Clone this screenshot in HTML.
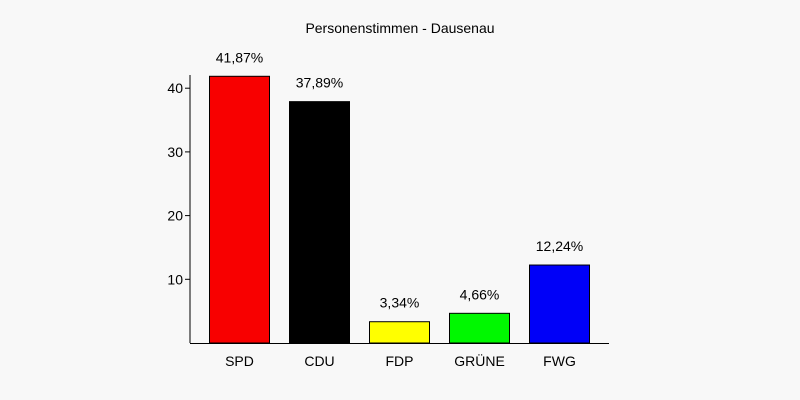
<!DOCTYPE html>
<html><head><meta charset="utf-8"><style>
body{margin:0;background:#f8f8f8;}
svg{display:block;font-family:"Liberation Sans",sans-serif;}
</style></head><body>
<svg id="chart" width="800" height="400">
<rect width="800" height="400" fill="#f8f8f8"/>
<text x="400" y="33" text-anchor="middle" font-size="14">Personenstimmen - Dausenau</text>
<g id="bars"></g>
<g id="axis"></g>
</svg>
<script>
const categories=["SPD","CDU","FDP","GRÜNE","FWG"];
const values=[41.87,37.89,3.34,4.66,12.24];
const valueLabels=["41,87%","37,89%","3,34%","4,66%","12,24%"];
const colors=["#f80000","#000000","#ffff00","#00f800","#0000f8"];
const ticks=[10,20,30,40];
const NS="http://www.w3.org/2000/svg";
const x0=190,y0=343,ppu=6.37,step=80,bw=60,first=19.5;
const yS=v=>y0-v*ppu;
const xS=i=>x0+first+i*step;
function mk(tag,attrs,parent){const e=document.createElementNS(NS,tag);for(const k in attrs)e.setAttribute(k,attrs[k]);parent.appendChild(e);return e;}
const bars=document.getElementById('bars'),axis=document.getElementById('axis');
values.forEach((v,i)=>{
 const r=mk('rect',{x:xS(i),y:yS(v),width:bw,height:y0-yS(v),fill:colors[i],stroke:'#000','stroke-width':1},bars);
 
 
 const t=mk('text',{x:xS(i)+bw/2,y:yS(v)-14,'text-anchor':'middle','font-size':14},bars);
 t.textContent=valueLabels[i];
 
 
 const c=mk('text',{x:xS(i)+bw/2,y:y0+23,'text-anchor':'middle','font-size':14},bars);
 c.textContent=categories[i];
 
 
});
const ya=mk('line',{x1:x0,y1:75,x2:x0,y2:y0,stroke:'#000','stroke-width':1},axis);


const xa=mk('line',{x1:x0,y1:y0+0.5,x2:609,y2:y0+0.5,stroke:'#000','stroke-width':1},axis);


ticks.forEach(t=>{
 const l=mk('line',{x1:x0-5,y1:yS(t),x2:x0,y2:yS(t),stroke:'#000'},axis);
 
 
 const tx=mk('text',{x:x0-7,y:yS(t)+5,'text-anchor':'end','font-size':14},axis);
 tx.textContent=t;
 
 
});
</script>
</body></html>
